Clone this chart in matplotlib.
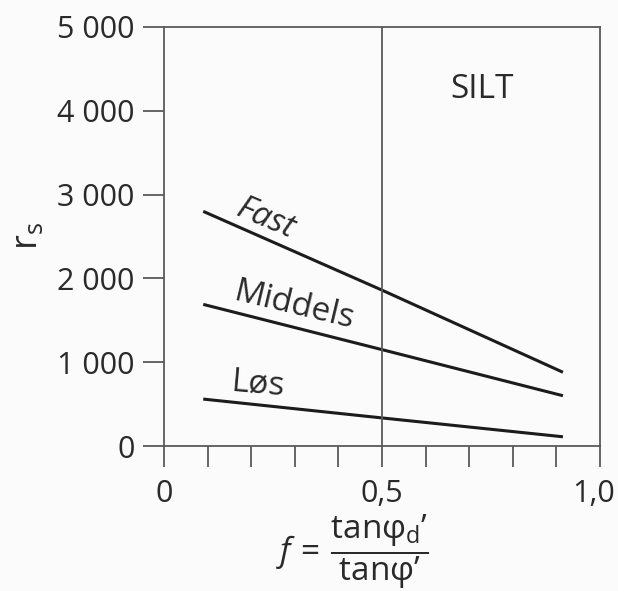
import matplotlib
matplotlib.use("Agg")
import matplotlib.pyplot as plt
import matplotlib.transforms as mtransforms
import numpy as np

plt.rcParams["font.family"] = ["Open Sans", "DejaVu Sans"]
plt.rcParams["mathtext.fontset"] = "custom"
plt.rcParams["mathtext.rm"] = "Open Sans"
plt.rcParams["mathtext.it"] = "Open Sans:italic"

# values
f_pts = [0.09, 0.5, 0.915]
fast = [2800, 1860, 880]
middels = [1690, 1150, 600]
los = [560, 335, 110]
yticks = [0, 1000, 2000, 3000, 4000, 5000]
ytick_labels = ["0", "1 000", "2 000", "3 000", "4 000", "5 000"]
xticks = [0, 0.5, 1.0]
xtick_labels = ["0", "0,5", "1,0"]

BG = "#fbfbfb"; AX = "#5a5a5a"; LN = "#1c1c1c"; TX = "#2a2a2a"

fig = plt.figure(figsize=(6.18, 5.91), dpi=100, facecolor=BG)
ax = fig.add_axes([164/618, 1-446/591, 436/618, 419/591], facecolor=BG)

for ys in (fast, middels, los):
    ax.plot(f_pts, ys, color=LN, lw=2.2, solid_capstyle="butt")
ax.axvline(0.5, color=AX, lw=1.3)

ax.set_xlim(0, 1); ax.set_ylim(0, 5000)
ax.set_xticks(xticks)
ax.set_xticks(np.arange(0.1, 1.0, 0.1), minor=True)
ax.set_yticks(yticks); ax.set_yticklabels(ytick_labels)
for s in ax.spines.values():
    s.set_color(AX); s.set_linewidth(1.3)
ax.tick_params(which="both", direction="out", length=15, width=1.3, color=AX)
ax.tick_params(axis="both", labelsize=22, labelcolor=TX, pad=6)
ax.tick_params(axis="x", pad=9)
ax.set_xticklabels(xtick_labels, fontsize=22, color=TX)
# last x label sits at the figure edge; nudge it left so it stays inside
last = ax.get_xticklabels()[-1]
last.set_transform(last.get_transform() + mtransforms.ScaledTranslation(-6/100, 0, fig.dpi_scale_trans))

# curve labels
ax.text(0.234, 2710, "Fast", rotation=-23, fontsize=24, color=TX, style="italic", ha="center", va="center",
        rotation_mode="anchor")
ax.text(0.30, 1670, "Middels", rotation=-13.5, fontsize=24, color=TX, ha="center", va="center",
        rotation_mode="anchor")
ax.text(0.216, 740, "Løs", rotation=-5, fontsize=24, color=TX, ha="center", va="center",
        rotation_mode="anchor")
ax.text(0.73, 4250, "SILT", fontsize=24, color=TX, ha="center", va="center")

ax.set_ylabel(r"r$_\mathrm{s}$", fontsize=26, color=TX, labelpad=8)
fig.text(352/618, 1-552/591, r"$f\,=\,\dfrac{\mathrm{tan\varphi_d}’}{\mathrm{tan\varphi}’}$",
         fontsize=24, color=TX, ha="center", va="center")

fig.savefig("out.png", dpi=100, facecolor=BG)
